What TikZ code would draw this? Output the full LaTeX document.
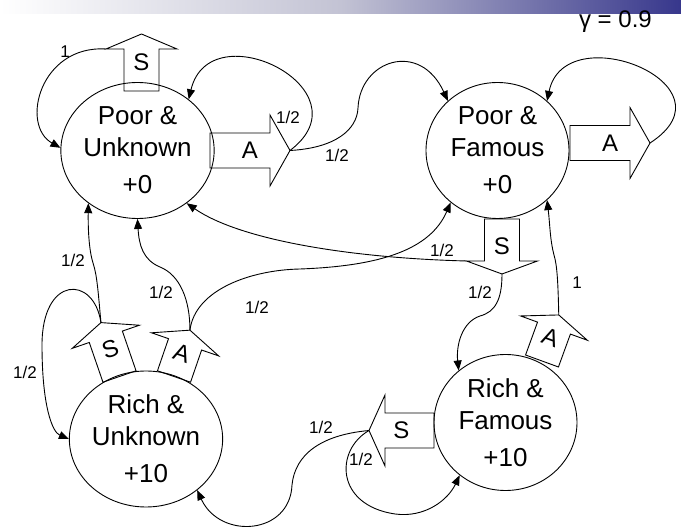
\documentclass[tikz,border=0pt]{standalone}
\usepackage{fontspec}
\setmainfont{Liberation Sans}
\usetikzlibrary{shapes.geometric,arrows.meta}
\definecolor{headblue}{RGB}{55,55,140}
\definecolor{headmid}{RGB}{195,195,212}
\tikzset{
  state/.style={draw, ellipse, line width=0.9pt, minimum width=143pt, minimum height=136pt, inner sep=0pt, align=center, font=\fontsize{26}{32}\selectfont},
  blockarrow/.style={draw, line width=0.9pt, line join=miter},
  arrowtext/.style={font=\fontsize{24}{28}\selectfont, inner sep=0pt},
  conn/.style={draw, line width=0.9pt, -{Triangle[length=10pt,width=8pt]}},
  lbl/.style={font=\fontsize{17}{20}\selectfont, inner sep=0pt},
}
% #1 name, #2 x, #3 y, #4 angle, #5 shaft length, #6 head length, #7 text, #8 text rotation
\newcommand{\blockarr}[8]{%
  \begin{scope}[shift={(#2,#3)}, rotate=#4]
    \draw[blockarrow] (0,-17.5) -- (#5,-17.5) -- (#5,-35.5) -- ({#5+#6},0) -- (#5,35.5) -- (#5,17.5) -- (0,17.5) -- cycle;
    \coordinate (#1) at ({#5+#6},0);
    \coordinate (#1-a) at (#5,-35.5);
    \coordinate (#1-b) at (#5,35.5);
    \node[arrowtext, rotate=#8] (#1-t) at ({(#5+#6)/2},0) {#7};
  \end{scope}}
\begin{document}
\begin{tikzpicture}[x=1pt,y=-1pt]
\useasboundingbox (0,0) rectangle (681,529);
\fill[white] (0,0) rectangle (681,529);
\shade[left color=white, right color=headblue, middle color=headmid] (0,0) rectangle (681,14);

\node[state] (pu) at (137.5,150.5) {Poor \&\\Unknown\\[5pt]+0};
\node[state] (pf) at (497.5,150.5) {Poor \&\\Famous\\[5pt]+0};
\node[state] (ru) at (146,439) {Rich \&\\Unknown\\[5pt]+10};
\node[state] (rf) at (505.5,422.5) {Rich \&\\Famous\\[5pt]+10};

\blockarr{pus}{141.5}{91}{90}{42}{15}{S}{0}
\blockarr{pua}{210}{150.5}{0}{60}{20}{A}{0}
\blockarr{pfa}{570}{143}{0}{60}{20}{A}{0}
\blockarr{pfs}{502}{219}{-90}{42}{13}{S}{0}
\blockarr{rus}{119.5}{376.5}{109}{42}{15}{S}{19}
\blockarr{rua}{174}{376.5}{71}{34}{15}{A}{-19}
\blockarr{rfa}{542}{361}{70}{35}{14}{A}{-20}
\blockarr{rfs}{434}{430.5}{180}{49}{16}{S}{0}

\draw[conn] (pus-a) .. controls (40,45) and (20,125) .. (pu.178);
\draw[conn] (pua) .. controls (370,90) and (210,10) .. (pu.45);
\draw[conn] (pua) .. controls (335,148) and (357,130) .. (358,108) .. controls (360,60) and (420,40) .. (pf.135);
\draw[conn] (pfa) .. controls (740,85) and (565,15) .. (pf.45);
\draw[conn] (pfs-b) .. controls (350,258) and (240,240) .. (pu.313);
\draw[conn] (pfs) .. controls (502,300) and (495,312) .. (480,316) .. controls (462,322) and (456,345) .. (rf.132);
\draw[conn] (rfa) .. controls (558,280) and (557,265) .. (554,255) .. controls (550,240) and (550,225) .. (pf.315);
\draw[conn] (rus) .. controls (98,290) and (97,275) .. (93,263) .. controls (89,250) and (88,230) .. (pu.227);
\draw[conn] (rus) .. controls (94,275) and (42,275) .. (42,345) .. controls (42,405) and (52,432) .. (ru.180);
\draw[conn] (rua) .. controls (190,300) and (180,275) .. (160,267) .. controls (143,260) and (139,245) .. (pu.270);
\draw[conn] (rua) .. controls (195,290) and (250,270) .. (300,269) .. controls (380,266) and (430,250) .. (pf.228);
\draw[conn] (rfs) .. controls (335,450) and (335,505) .. (395,514) .. controls (425,518) and (448,500) .. (rf.229);
\draw[conn] (rfs) .. controls (320,435) and (295,455) .. (292,485) .. controls (290,535) and (220,540) .. (ru.315);

\node[lbl] (l1) at (65,52) {1};
\node[lbl] (l2) at (288,117) {1/2};
\node[lbl] (l3) at (337,155) {1/2};
\node[lbl] (l4) at (442,250) {1/2};
\node[lbl] (l5) at (480,292) {1/2};
\node[lbl] (l6) at (577,283) {1};
\node[lbl] (l7) at (73,260) {1/2};
\node[lbl] (l8) at (25,372) {1/2};
\node[lbl] (l9) at (161,292) {1/2};
\node[lbl] (l10) at (257,307) {1/2};
\node[lbl] (l11) at (321,427) {1/2};
\node[lbl] (l12) at (361,459) {1/2};
\node[font=\fontsize{24}{28}\selectfont, anchor=base east, inner sep=0pt] (gamma) at (652,28) {γ = 0.9};
\end{tikzpicture}
\end{document}
